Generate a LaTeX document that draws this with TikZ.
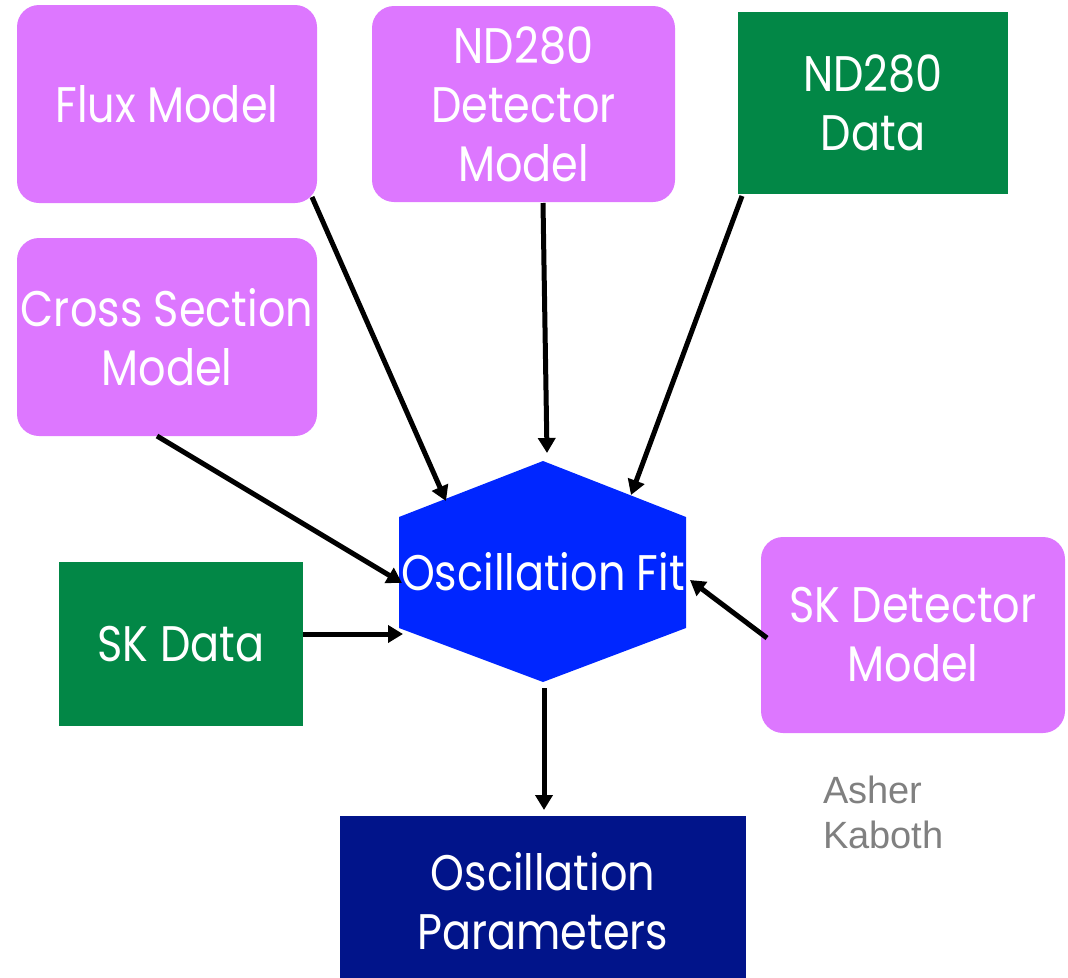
\documentclass[tikz,border=0pt]{standalone}
\usepackage{fontspec}
\newfontfamily\boxfont[FakeStretch=0.86]{Poppins}
\newfontfamily\authfont{Liberation Sans}
\usetikzlibrary{arrows.meta}
\definecolor{pinkc}{RGB}{221,119,255}
\definecolor{greenc}{RGB}{2,135,70}
\definecolor{bluec}{RGB}{0,38,255}
\definecolor{navyc}{RGB}{1,20,138}
\definecolor{grayc}{RGB}{128,128,128}
\begin{document}
\begin{tikzpicture}[x=1pt,y=-1pt,
  lbl/.style={text=white,align=center,font=\boxfont\fontsize{50}{59}\selectfont,inner sep=0pt},
  pinkbox/.style={lbl,fill=pinkc,rounded corners=22pt},
  greenbox/.style={lbl,fill=greenc},
  navybox/.style={lbl,fill=navyc},
  arr/.style={line width=5pt,-{Triangle[length=15pt,width=17pt]}},
  auth/.style={text=grayc,font=\authfont\fontsize{38}{45}\selectfont,inner sep=0pt,anchor=base west}]
\useasboundingbox (0,0) rectangle (1068,977);
\clip (0,0) rectangle (1068,977);
% boxes
\node[pinkbox,minimum width=300pt,minimum height=198pt] (flux) at (167,104) {Flux Model};
\node[pinkbox,minimum width=303pt,minimum height=196pt] (nddet) at (523.5,104) {ND280\\Detector\\Model};
\node[greenbox,minimum width=270pt,minimum height=182pt] (nddata) at (873,103) {ND280\\Data};
\node[pinkbox,minimum width=300pt,minimum height=198pt] (xsec) at (167,337) {Cross Section\\Model};
\node[greenbox,minimum width=244pt,minimum height=164pt] (skdata) at (181,644) {SK Data};
\node[pinkbox,minimum width=304pt,minimum height=196pt] (skdet) at (913,635) {SK Detector\\Model};
\node[navybox,minimum width=406pt,minimum height=170pt] (params) at (543,901) {Oscillation\\Parameters};
% hexagon
\coordinate (ht) at (543,461);
\coordinate (htr) at (686,517);
\coordinate (hbr) at (686,628);
\coordinate (hb) at (543,682);
\coordinate (hbl) at (399,628);
\coordinate (htl) at (399,517);
\fill[bluec] (ht) -- (htr) -- (hbr) -- (hb) -- (hbl) -- (htl) -- cycle;
\node[lbl] (fit) at (543,572) {Oscillation Fit};
% arrow end points
\coordinate (s1) at (312,197);
\coordinate (t1) at (446,501);
\coordinate (s2) at (543,203);
\coordinate (t2) at (547,453);
\coordinate (s3) at (742,196);
\coordinate (t3) at (631,495);
\coordinate (s4) at (157,436);
\coordinate (t4) at (402,583);
\coordinate (s5) at (303,634);
\coordinate (t5) at (403,634);
\coordinate (s6) at (767,638);
\coordinate (t6) at (690,580);
\coordinate (s7) at (544,688);
\coordinate (t7) at (544,810);
\draw[arr] (s1) -- (t1);
\draw[arr] (s2) -- (t2);
\draw[arr] (s3) -- (t3);
\draw[arr] (s4) -- (t4);
\draw[arr] (s5) -- (t5);
\draw[arr] (s6) -- (t6);
\draw[arr] (s7) -- (t7);
% author
\node[auth] (a1) at (823,803) {Asher};
\node[auth] (a2) at (823,848) {Kaboth};
\end{tikzpicture}
\end{document}
